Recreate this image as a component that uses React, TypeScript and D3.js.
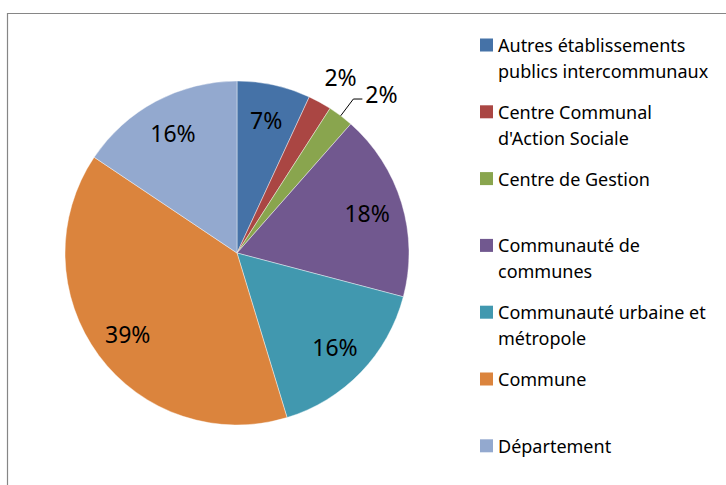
import React from "react";
import * as d3 from "d3";

const categories = [
  "Autres établissements publics intercommunaux",
  "Centre Communal d'Action Sociale",
  "Centre de Gestion",
  "Communauté de communes",
  "Communauté urbaine et métropole",
  "Commune",
  "Département",
];
const legendLines = [
  ["Autres établissements", "publics intercommunaux"],
  ["Centre Communal", "d'Action Sociale"],
  ["Centre de Gestion"],
  ["Communauté de", "communes"],
  ["Communauté urbaine et", "métropole"],
  ["Commune"],
  ["Département"],
];
const values = [6.9, 2.2, 2.4, 17.6, 16.2, 39.1, 15.6];
const colors = ["#4572A7", "#AA4643", "#89A54E", "#71588F", "#4198AF", "#DB843D", "#93A9CF"];

const W = 726;
const H = 485;
const cx = 237;
const cy = 253;
const R = 172;
const FONT = "'Noto Sans', sans-serif";

export default function App() {
  const total = d3.sum(values);
  const pie = d3.pie<number>().sort(null).value((d) => d);
  const arcs = pie(values);
  const arc = d3.arc<d3.PieArcDatum<number>>().innerRadius(0).outerRadius(R);
  const labelArc = d3.arc<d3.PieArcDatum<number>>().innerRadius(136).outerRadius(136);

  const polar = (a: number, r: number): [number, number] => [Math.sin(a) * r, -Math.cos(a) * r];

  return (
    <svg width={W} height={H} style={{ position: "absolute", left: 0, top: 0 }} fontFamily={FONT}>
      <rect x={0} y={0} width={W} height={H} fill="#fff" />
      <path d={`M7.5,${H} L7.5,13.5 L${W},13.5`} fill="none" stroke="#868686" strokeWidth={1.2} />
      <g transform={`translate(${cx},${cy})`}>
        {arcs.map((a, i) => (
          <path key={i} d={arc(a) || ""} fill={colors[i]} stroke="#ffffff" strokeWidth={0.6} strokeOpacity={0.7} />
        ))}
        {arcs.map((a, i) => {
          const pct = Math.round((values[i] / total) * 100) + "%";
          const mid = (a.startAngle + a.endAngle) / 2;
          if (i === 1) {
            const [x, y] = polar(mid + 0.03, 204);
            return (
              <text key={i} x={x} y={y} textAnchor="middle" dominantBaseline="central" fontSize={23} fill="#000">
                {pct}
              </text>
            );
          }
          if (i === 2) {
            const [x0, y0] = polar(mid, R);
            const [x1, y1] = polar(mid, 193);
            return (
              <g key={i}>
                <path d={`M${x0},${y0} L${x1},${y1} L${x1 + 9},${y1}`} fill="none" stroke="#000" strokeWidth={1} />
                <text x={x1 + 12} y={y1 - 5} dominantBaseline="central" fontSize={23} fill="#000">
                  {pct}
                </text>
              </g>
            );
          }
          const [x, y] = labelArc.centroid(a);
          return (
            <text key={i} x={x} y={y} textAnchor="middle" dominantBaseline="central" fontSize={23} fill="#000">
              {pct}
            </text>
          );
        })}
      </g>
      <g>
        {categories.map((c, i) => {
          const y = 45 + i * 66.8;
          return (
            <g key={c}>
              <rect x={480} y={y - 6.5} width={13} height={13} fill={colors[i]} />
              {legendLines[i].map((l, j) => (
                <text key={j} x={498} y={y + j * 26} dominantBaseline="central" fontSize={18} fill="#000">
                  {l}
                </text>
              ))}
            </g>
          );
        })}
      </g>
    </svg>
  );
}
